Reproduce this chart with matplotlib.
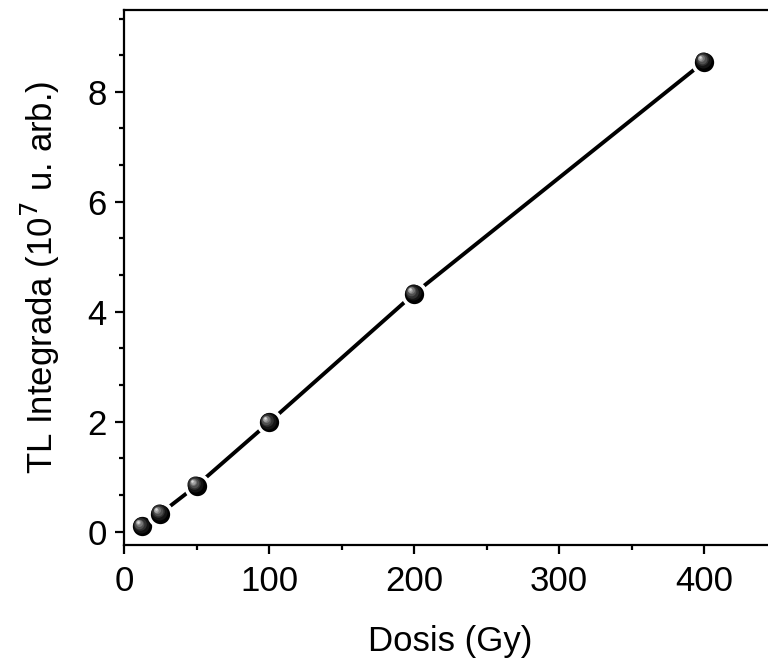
import matplotlib
matplotlib.use("Agg")
import matplotlib.pyplot as plt
from matplotlib.ticker import MultipleLocator
from matplotlib.transforms import offset_copy

plt.rcParams['font.family'] = ['Liberation Sans', 'DejaVu Sans']

dosis = [12.5, 25, 50, 100, 200, 400]
tl = [0.10, 0.33, 0.84, 1.99, 4.33, 8.55]

fig = plt.figure(figsize=(7.68, 6.59), dpi=100)
ax = fig.add_axes([0.1615, 0.173, 0.85, 0.812])

# linha
ax.plot(dosis, tl, '-', color='black', lw=2.8, zorder=2)

# esferas sombreadas: base preta com contorno branco (espaço entre linha e símbolo)
ms = 16.5
ax.plot(dosis, tl, 'o', ms=ms, mfc='black', mec='white', mew=2.6, zorder=3)
shades = [(0.70, '#141414'), (0.55, '#303030'), (0.42, '#505050'),
          (0.30, '#787878'), (0.20, '#a4a4a4'), (0.11, '#d8d8d8')]
for frac, col in shades:
    off = (1 - frac) * 4.8
    tr = offset_copy(ax.transData, fig=fig, x=-off, y=off, units='dots')
    ax.plot(dosis, tl, 'o', ms=ms * frac, mfc=col, mec='none', transform=tr, zorder=4)

ax.set_xlim(0, 450)
ax.set_ylim(-0.24, 9.49)
ax.xaxis.set_major_locator(MultipleLocator(100))
ax.xaxis.set_minor_locator(MultipleLocator(50))
ax.yaxis.set_major_locator(MultipleLocator(2))
ax.yaxis.set_minor_locator(MultipleLocator(2 / 3))

for s in ax.spines.values():
    s.set_linewidth(1.6)
ax.tick_params(which='both', direction='out', width=1.6, top=False, right=False,
               labelsize=25)
ax.tick_params(axis='x', which='major', length=6.5, pad=8)
ax.tick_params(axis='y', which='major', length=6.5, pad=6)
ax.tick_params(which='minor', length=3.6)

ax.set_xlabel('Dosis (Gy)', fontsize=25, labelpad=19)
ax.set_ylabel(r'TL Integrada (10$^{7}$ u. arb.)', fontsize=25, labelpad=18)

fig.savefig('out.png', dpi=100)
